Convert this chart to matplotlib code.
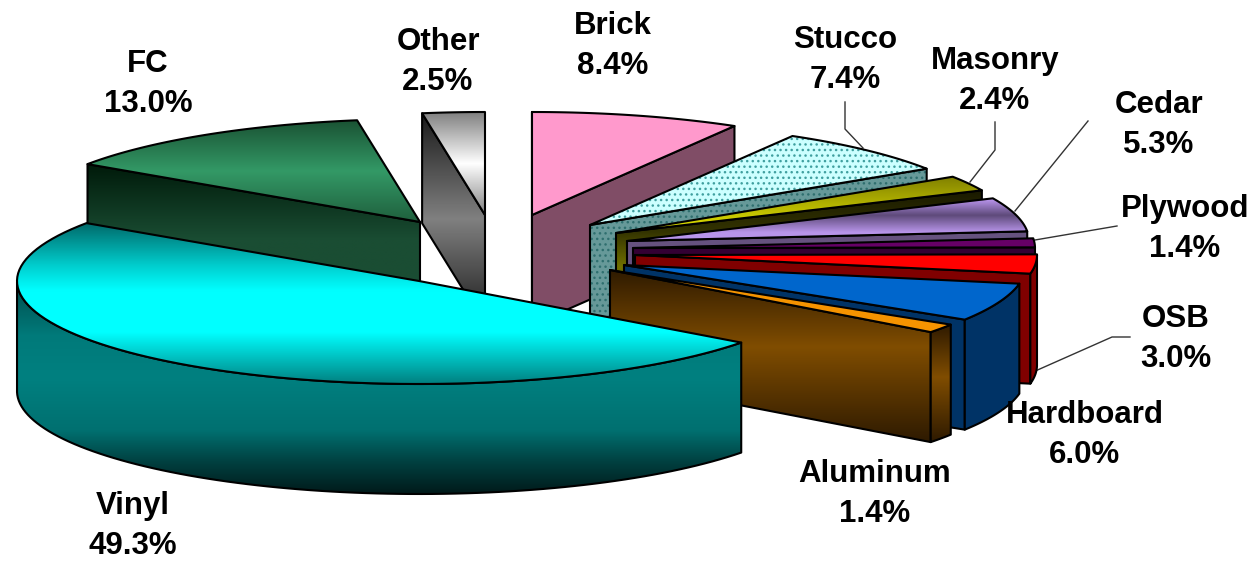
import numpy as np
import matplotlib
matplotlib.use('Agg')
import matplotlib.pyplot as plt
from matplotlib.patches import Polygon
from matplotlib.colors import LinearSegmentedColormap

names = ['Vinyl', 'FC', 'Other', 'Brick', 'Stucco', 'Masonry', 'Cedar',
         'Plywood', 'OSB', 'Hardboard', 'Aluminum']
shares = [49.3, 13.0, 2.5, 8.4, 7.4, 2.4, 5.3, 1.4, 3.0, 6.0, 1.4]

# where each exploded slice has its tip, in pixels
apex_x = [419, 420, 485, 532, 590, 616, 627, 633, 635, 624, 610]
apex_y = [281, 222, 215, 215, 225, 233, 241, 248, 255, 265, 270]

top_colors = [
    [(0, '#006a6a'), (.27, '#00d0d0'), (.42, '#00ffff'), (.68, '#00ffff'), (1, '#008080')],
    [(0, '#1a5233'), (.5, '#339966'), (1, '#1f5f3d')],
    [(0, '#808080'), (.5, '#ffffff'), (1, '#808080')],
    ['#ff99cc'], ['#ccffff'],
    [(0, '#808000'), (1, '#e6e600')],
    [(0, '#c09af5'), (.4, '#5e4a7a'), (.8, '#b895ea'), (1, '#b895ea')],
    ['#660066'], ['#ff0000'], ['#0066cc'], ['#f59300'],
]
side_colors = [
    [(0, '#004c4c'), (.25, '#007a7a'), (.45, '#008080'), (.7, '#007070'), (.85, '#004040'), (1, '#001a1a')],
    [(0, '#001a0a'), (.45, '#1a4d33'), (1, '#1a4d33')],
    [(0, '#1a1a1a'), (.5, '#808080'), (1, '#1a1a1a')],
    ['#804d66'], ['#669999'],
    [(0, '#1a1a00'), (.27, '#333300'), (.5, '#707000'), (1, '#333300')],
    ['#66527f'],
    ['#330033'], ['#800000'], ['#003366'],
    [(0, '#2e1a00'), (.45, '#804d00'), (1, '#2e1a00')],
]
dotted = ['Stucco']

label_x = [133, 148, 438, 613, 845, 995, 1159, 1185, 1176, 1085, 875]
label_y = [526, 84, 62, 46, 60, 81, 125, 229, 339, 435, 494]

leaders = [
    [(845, 102), (845, 129), (863, 148)],
    [(995, 122), (995, 150), (970, 182)],
    [(1088, 121), (1015, 211)],
    [(1117, 226), (1035, 240)],
    [(1130, 337), (1112, 337), (1033, 372)],
]

RX, RY, DEPTH = 402, 103, 110
START = -36.72

plt.rcParams['hatch.linewidth'] = 1.0
fig = plt.figure(figsize=(12.54, 5.61), dpi=100)
ax = fig.add_axes([0, 0, 1, 1])
z = [10]


def paint(pts, colors, hatch=None):
    pts = np.array(pts)
    z[0] += 1
    outline = Polygon(pts, closed=True, facecolor='none', edgecolor='black',
                      lw=1.5, zorder=z[0] + 0.5, joinstyle='round')
    ax.add_patch(outline)
    if len(colors) == 1:
        ax.add_patch(Polygon(pts, closed=True, facecolor=colors[0], edgecolor='none',
                             lw=0, zorder=z[0]))
    else:
        cmap = LinearSegmentedColormap.from_list('g', colors)
        grad = np.linspace(0, 1, 256).reshape(-1, 1)
        im = ax.imshow(grad, cmap=cmap, aspect='auto', zorder=z[0], interpolation='bilinear',
                       extent=(pts[:, 0].min(), pts[:, 0].max(), pts[:, 1].max(), pts[:, 1].min()))
        im.set_clip_path(Polygon(pts, closed=True, transform=ax.transData))
    if hatch:
        ax.add_patch(Polygon(pts, closed=True, facecolor='none', edgecolor=hatch, hatch='...',
                             lw=0, zorder=z[0] + 0.2))


def rim(cx, cy, a, b, n=90):
    t = np.radians(np.linspace(a, b, n))
    return np.column_stack([cx + RX * np.cos(t), cy - RY * np.sin(t)])


# angles run clockwise from the front right edge of Vinyl
ends = START - np.cumsum(shares) * 3.6
starts = np.concatenate([[START], ends[:-1]])

# Vinyl comes last, it lies in front of all the others
for i in list(range(1, len(names))) + [0]:
    a, b = starts[i], ends[i]
    cx, cy = apex_x[i], apex_y[i]
    ca, cb = np.radians(a), np.radians(b)
    hatch_side = '#2f6f6f' if names[i] in dotted else None
    hatch_top = '#3f9f9f' if names[i] in dotted else None

    # cut faces which look to the viewer
    for ang, visible in ((a, np.cos(ca) < 0), (b, np.cos(cb) > 0)):
        if visible:
            p = rim(cx, cy, ang, ang, 1)[0]
            paint([(cx, cy), p, (p[0], p[1] + DEPTH), (cx, cy + DEPTH)], side_colors[i], hatch_side)

    # outer wall, only the front half of the rim
    t = np.linspace(a, b, 200)
    t = t[np.sin(np.radians(t)) <= 0]
    if len(t) > 1:
        arc = rim(cx, cy, t[0], t[-1])
        low = arc + [0, DEPTH]
        paint(np.vstack([arc, low[::-1]]), side_colors[i], hatch_side)

    top = np.vstack([[(cx, cy)], rim(cx, cy, a, b)])
    paint(top, top_colors[i], hatch_top)

for line in leaders:
    line = np.array(line)
    ax.plot(line[:, 0], line[:, 1], color='#333333', lw=1.0, zorder=5)

for i, name in enumerate(names):
    ax.text(label_x[i], label_y[i], '{0}\n{1:.1f}%'.format(name, shares[i]),
            family='Liberation Sans', weight='bold', fontsize=22.5, ha='center',
            va='center', linespacing=1.4, color='black', zorder=100)

ax.set_xlim(0, 1254)
ax.set_ylim(561, 0)
ax.axis('off')
fig.savefig('out.png', dpi=100)
